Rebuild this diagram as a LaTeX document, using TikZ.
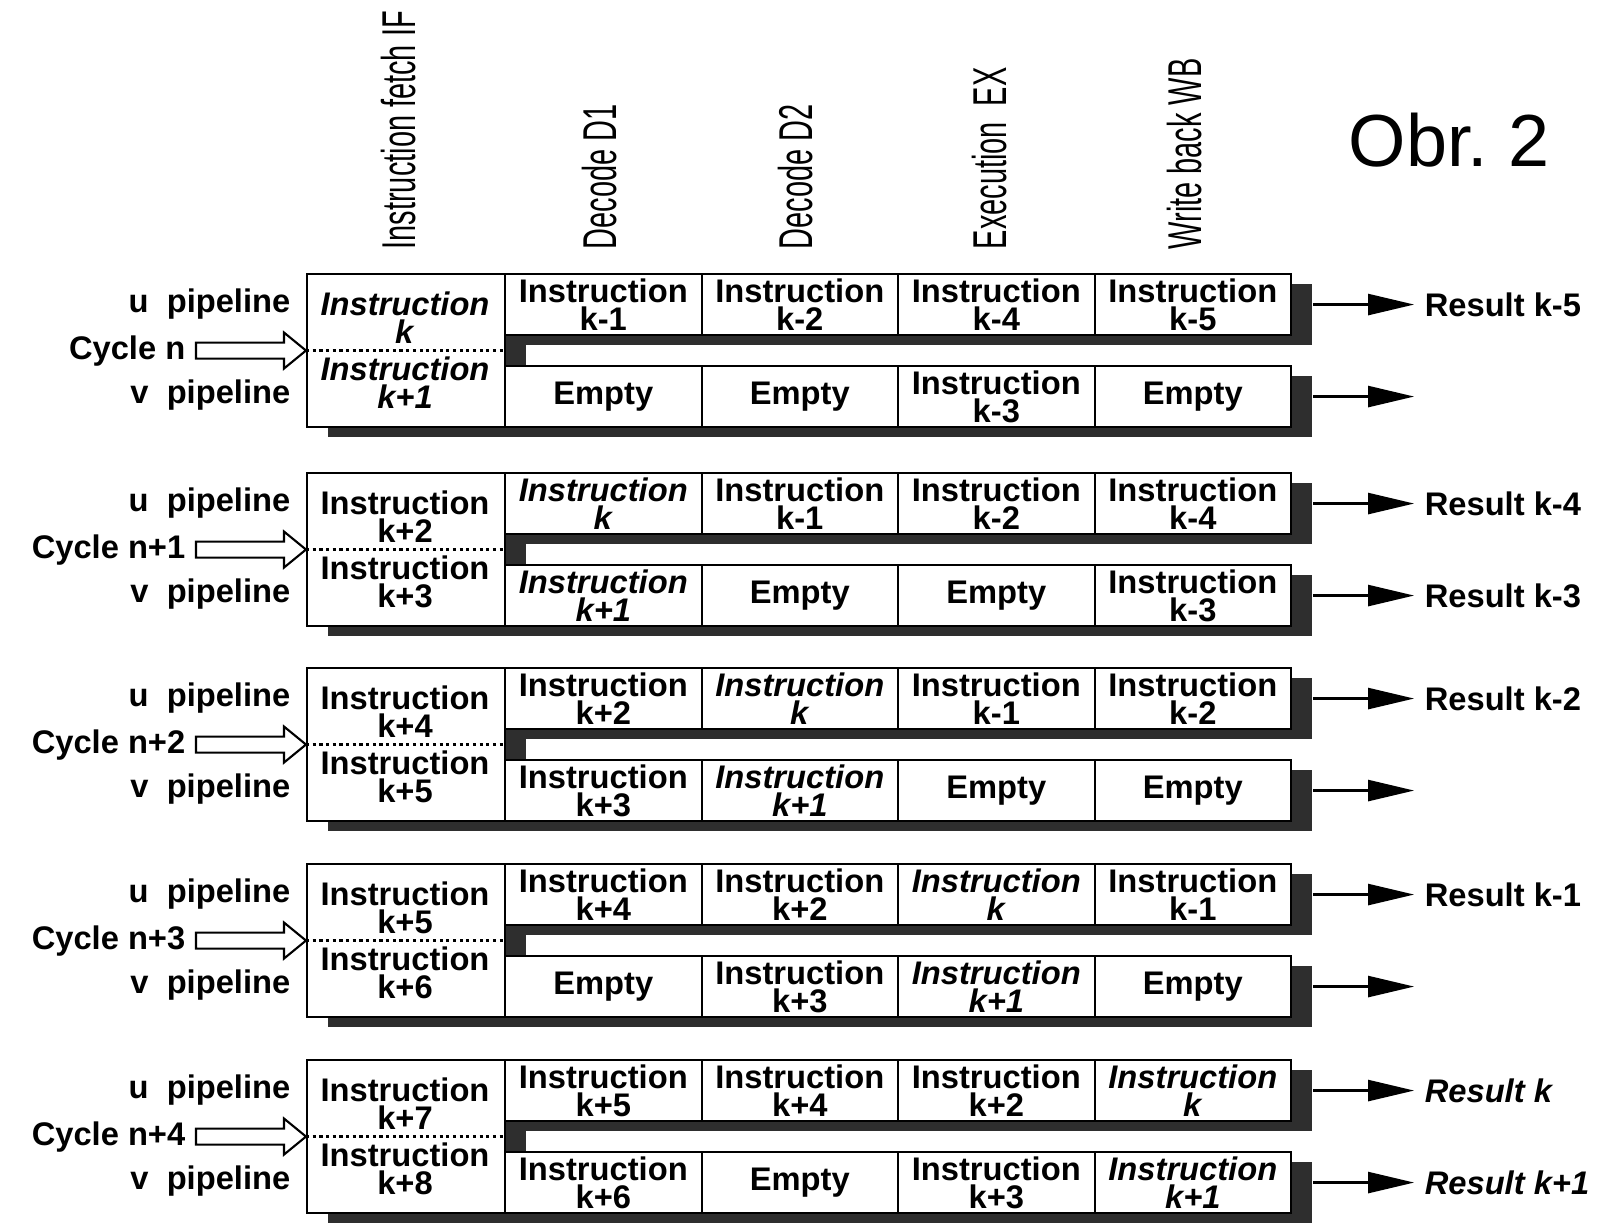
\documentclass[tikz,border=0pt]{standalone}
\usepackage{fontspec}
\setmainfont{Liberation Sans}
\newfontfamily\headfont[FakeStretch=0.61]{Liberation Sans}
\usetikzlibrary{positioning, arrows.meta, shadows}

\newcommand{\instr}[1]{Instruction\\#1}
\newcommand{\instrk}[1]{\textit{Instruction}\\\textit{#1}}

% one row of four stage cells
\newcommand{\cellrow}[6]{%
  \foreach \txt [count=\j] in {#3,#4,#5,#6}
    \node[cell, anchor=north west] (#1\j) at ({504+196.5*(\j-1)},#2) {\txt};
}
\newcommand{\outarrow}[1]{%
  \coordinate (#1r) at ([xshift=12.2mm]#1.east);
  \draw[resarrow] ([xshift=2.1mm]#1.east) -- (#1r);
}
\newcommand{\outresult}[2]{%
  \outarrow{#1}
  \node[lab, anchor=west] (#1t) at ([xshift=1mm]#1r) {#2};
}

\begin{document}
\begin{tikzpicture}[
    x=0.1mm, y=-0.1mm,
    lab/.style={font=\fontsize{9.3}{8}\selectfont\bfseries, inner sep=0pt},
    celltext/.style={lab, align=center},
    boxshadow/.style={drop shadow={shadow xshift=2.1mm, shadow yshift=-1mm, opacity=1, fill=black!82}},
    cell/.style={draw, line width=0.6pt, fill=white, boxshadow, minimum width=19.65mm,
                 minimum height=6.1mm, celltext},
    ifbox/.style={draw, line width=0.6pt, fill=white, boxshadow, minimum width=19.8mm,
                  minimum height=15.3mm, inner sep=0pt},
    fetchline/.style={densely dotted, line width=0.9pt},
    hollow/.style={draw, line width=0.6pt, fill=white},
    resarrow/.style={line width=0.7pt, -{Triangle[length=4.6mm, width=2.1mm]}},
    head/.style={rotate=90, anchor=west, inner sep=0pt, font=\headfont\fontsize{13.5}{13.5}\selectfont}
    ]
    \useasboundingbox (0,0) rectangle (1618,1223);

    % stage headers
    \node[head] (hIF) at (399,250) {Instruction fetch IF};
    \node[head] (hD1) at (600,250) {Decode D1};
    \node[head] (hD2) at (796,250) {Decode D2};
    \node[head] (hEX) at (990,250) {Execution~~EX};
    \node[head] (hWB) at (1185,250) {Write back WB};
    \node[anchor=base west, inner sep=0pt, font=\fontsize{21}{21}\selectfont] (obr) at (1348,167) {Obr.\ 2};

    % fetch boxes, cycle arrows, row labels
    \foreach \b/\t/\c in {A/273/n, B/472/n+1, C/667/n+2, D/863/n+3, E/1059/n+4} {
        \node[ifbox, anchor=north west] (if\b) at (306,\t) {};
        \draw[fetchline] (if\b.west) -- (if\b.east);
        \node[lab, anchor=east] (cyc\b) at ([xshift=-12mm]if\b.west) {Cycle \c};
        \draw[hollow] ([shift={(1mm,0.8mm)}]cyc\b.east) -- ([shift={(-2.2mm,0.8mm)}]if\b.west)
            -- ([shift={(-2.2mm,1.8mm)}]if\b.west) -- (if\b.west)
            -- ([shift={(-2.2mm,-1.8mm)}]if\b.west) -- ([shift={(-2.2mm,-0.8mm)}]if\b.west)
            -- ([shift={(1mm,-0.8mm)}]cyc\b.east) -- cycle;
        \node[lab, anchor=east] (ul\b) at (291,\t+31) {u~~pipeline};
        \node[lab, anchor=east] (vl\b) at (291,\t+122) {v~~pipeline};
    }

    % cycle n
    \node[celltext] (fuA) at (405,318) {\instrk{k}};
    \node[celltext] (fvA) at (405,383) {\instrk{k+1}};
    \cellrow{uA}{273}{\instr{k-1}}{\instr{k-2}}{\instr{k-4}}{\instr{k-5}}
    \cellrow{vA}{365}{Empty}{Empty}{\instr{k-3}}{Empty}
    \outresult{uA4}{Result k-5}
    \outarrow{vA4}

    % cycle n+1
    \node[celltext] (fuB) at (405,517) {\instr{k+2}};
    \node[celltext] (fvB) at (405,582) {\instr{k+3}};
    \cellrow{uB}{472}{\instrk{k}}{\instr{k-1}}{\instr{k-2}}{\instr{k-4}}
    \cellrow{vB}{564}{\instrk{k+1}}{Empty}{Empty}{\instr{k-3}}
    \outresult{uB4}{Result k-4}
    \outresult{vB4}{Result k-3}

    % cycle n+2
    \node[celltext] (fuC) at (405,712) {\instr{k+4}};
    \node[celltext] (fvC) at (405,777) {\instr{k+5}};
    \cellrow{uC}{667}{\instr{k+2}}{\instrk{k}}{\instr{k-1}}{\instr{k-2}}
    \cellrow{vC}{759}{\instr{k+3}}{\instrk{k+1}}{Empty}{Empty}
    \outresult{uC4}{Result k-2}
    \outarrow{vC4}

    % cycle n+3
    \node[celltext] (fuD) at (405,908) {\instr{k+5}};
    \node[celltext] (fvD) at (405,973) {\instr{k+6}};
    \cellrow{uD}{863}{\instr{k+4}}{\instr{k+2}}{\instrk{k}}{\instr{k-1}}
    \cellrow{vD}{955}{Empty}{\instr{k+3}}{\instrk{k+1}}{Empty}
    \outresult{uD4}{Result k-1}
    \outarrow{vD4}

    % cycle n+4
    \node[celltext] (fuE) at (405,1104) {\instr{k+7}};
    \node[celltext] (fvE) at (405,1169) {\instr{k+8}};
    \cellrow{uE}{1059}{\instr{k+5}}{\instr{k+4}}{\instr{k+2}}{\instrk{k}}
    \cellrow{vE}{1151}{\instr{k+6}}{Empty}{\instr{k+3}}{\instrk{k+1}}
    \outresult{uE4}{\textit{Result k}}
    \outresult{vE4}{\textit{Result k+1}}
\end{tikzpicture}
\end{document}
